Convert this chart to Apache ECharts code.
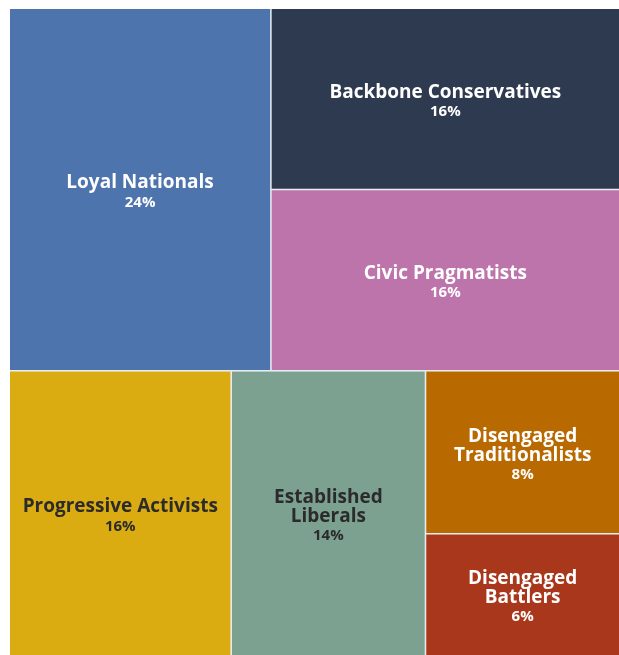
<!DOCTYPE html>
<html>
<head>
<meta charset="utf-8">
<script src="https://cdn.jsdelivr.net/npm/echarts@6/dist/echarts.min.js"></script>
<style>
  html, body { margin: 0; padding: 0; background: #ffffff; }
  #chart { width: 619px; height: 655px; }
</style>
</head>
<body>
<div id="chart"></div>
<script>
// Segments of the population and their share (%)
const segmentNames = [
  'Loyal Nationals',
  'Backbone Conservatives',
  'Civic Pragmatists',
  'Progressive Activists',
  'Established\nLiberals',
  'Disengaged\nTraditionalists',
  'Disengaged\nBattlers'
];
const segmentShares = [24, 16, 16, 16, 14, 8, 6];
// Which band (upper / lower) each segment sits in
const segmentBand = [0, 0, 0, 1, 1, 1, 1];
const bandNames = ['Upper', 'Lower'];

// Fill and label colours per segment
const segmentColors = ['#4e74ae', '#2e3a4f', '#bc74ab', '#dbab12', '#7ca191', '#b86a00', '#a8371c'];
const labelColors = ['#ffffff', '#ffffff', '#ffffff', '#2b2b2b', '#2b2b2b', '#ffffff', '#ffffff'];

const NAME_LH = 19;
const PCT_LH = 20;
const FONT = '"Open Sans", "Noto Sans", sans-serif';

const bands = bandNames.map(function (name, b) {
  const children = [];
  segmentNames.forEach(function (n, i) {
    if (segmentBand[i] !== b) return;
    children.push({
      name: n,
      value: segmentShares[i],
      itemStyle: { color: segmentColors[i] },
      label: {
        color: labelColors[i],
        rich: {
          n: { color: labelColors[i], fontSize: 19, fontWeight: 'bold', lineHeight: NAME_LH, fontFamily: FONT },
          p: { color: labelColors[i], fontSize: 15, fontWeight: 'bold', lineHeight: PCT_LH, fontFamily: FONT }
        }
      }
    });
  });
  return {
    name: name,
    value: children.reduce(function (s, c) { return s + c.value; }, 0),
    children: children
  };
});

const chart = echarts.init(document.getElementById('chart'));
chart.setOption({
  animation: false,
  series: [{
    type: 'treemap',
    left: 10,
    top: 9,
    width: 609,
    height: 646,
    roam: false,
    nodeClick: false,
    sort: false,
    squareRatio: 1,
    breadcrumb: { show: false },
    label: {
      show: true,
      position: 'inside',
      align: 'center',
      verticalAlign: 'top',
      overflow: 'none',
      formatter: function (p) {
        return '{n|' + p.name + '}\n{p|' + p.value + '%}';
      }
    },
    // centre each label block vertically inside its tile
    labelLayout: function (params) {
      const r = params.rect;
      const lines = String(params.text).split('\n').length;
      const h = (lines - 1) * NAME_LH + PCT_LH;
      return {
        x: r.x + r.width / 2,
        y: r.y + r.height / 2 - h / 2 - 1.5,
        align: 'center',
        verticalAlign: 'top'
      };
    },
    upperLabel: { show: false },
    levels: [
      { itemStyle: { borderColor: '#e6ecf2', borderWidth: 0, gapWidth: 1.5 } },
      { itemStyle: { borderColor: '#e6ecf2', borderWidth: 0, gapWidth: 1.5 } },
      { itemStyle: { borderWidth: 0, gapWidth: 0 } }
    ],
    data: bands
  }]
});
</script>
</body>
</html>
